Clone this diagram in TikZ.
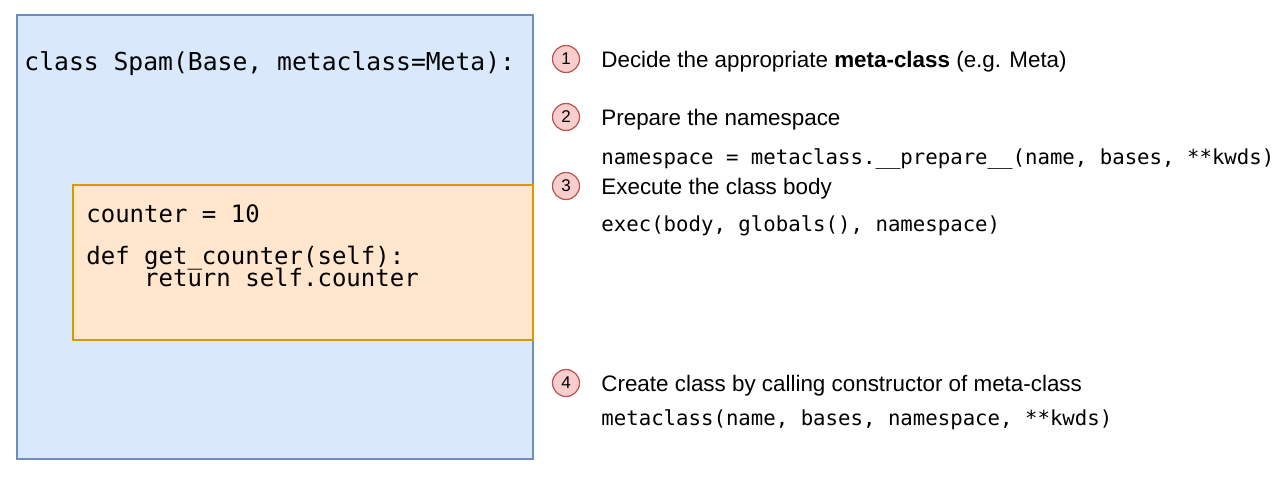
\documentclass[tikz,border=0pt]{standalone}
\usepackage{fontspec}
\setmainfont{Liberation Sans}
\setmonofont{DejaVu Sans Mono}
\definecolor{clsfill}{HTML}{DAE8FC}
\definecolor{clsline}{HTML}{6C8EBF}
\definecolor{bodyfill}{HTML}{FFE6CC}
\definecolor{bodyline}{HTML}{D79B00}
\definecolor{stepfill}{HTML}{F8CECC}
\definecolor{stepline}{HTML}{B85450}
\tikzset{
  classbox/.style={draw=clsline, fill=clsfill, line width=0.6pt},
  bodybox/.style={draw=bodyline, fill=bodyfill, line width=0.6pt},
  headcode/.style={anchor=base west, inner sep=0pt, font=\fontsize{12.35}{14}\ttfamily},
  bodycode/.style={anchor=base west, inner sep=0pt, font=\fontsize{12.0}{14}\ttfamily},
  smallcode/.style={anchor=base west, inner sep=0pt, font=\fontsize{10.35}{12}\ttfamily},
  stepnum/.style={circle, draw=stepline, fill=stepfill, line width=0.6pt,
    minimum size=13.5pt, inner sep=0pt, font=\fontsize{8.5}{9}\selectfont},
  steptext/.style={anchor=base west, inner sep=0pt, font=\fontsize{11.2}{13}\selectfont},
}
\begin{document}
\begin{tikzpicture}[x=0.5pt, y=-0.5pt]
\useasboundingbox (0,0) rectangle (1280,479);

% class statement and its body
\draw[classbox] (17,15) rectangle (533,459);
\node[headcode] (head) at (24,70) {class Spam(Base, metaclass=Meta):};
\draw[bodybox] (73,185) rectangle (533,340);
\node[bodycode] (c1) at (86,222) {counter = 10};
\node[bodycode] (c2) at (86,264) {def get\_counter(self):};
\node[bodycode] (c3) at (86,286) {\ \ \ \ return self.counter};

% numbered steps of class creation
\node[stepnum] (n1) at (566,59) {1};
\node[stepnum] (n2) at (566,117) {2};
\node[stepnum] (n3) at (566,186) {3};
\node[stepnum] (n4) at (566,383) {4};

\node[steptext] (t1) at (601,67) {Decide the appropriate \textbf{meta-class} (e.g. Meta)};
\node[steptext] (t2) at (601,125) {Prepare the namespace};
\node[smallcode] (k2) at (601,164) {namespace = metaclass.\_\_prepare\_\_(name, bases, **kwds)};
\node[steptext] (t3) at (601,194) {Execute the class body};
\node[smallcode] (k3) at (601,231) {exec(body, globals(), namespace)};
\node[steptext] (t4) at (601,391) {Create class by calling constructor of meta-class};
\node[smallcode] (k4) at (601,425) {metaclass(name, bases, namespace, **kwds)};
\end{tikzpicture}
\end{document}
